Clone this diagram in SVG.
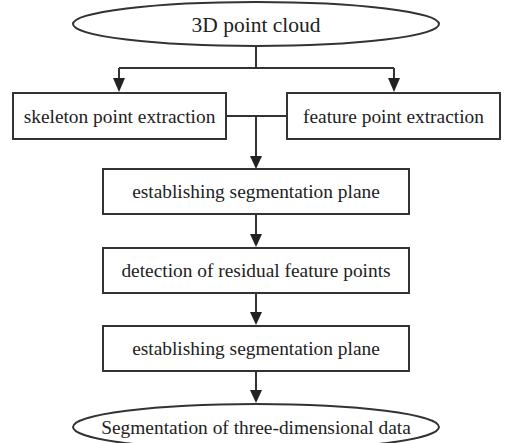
<svg xmlns="http://www.w3.org/2000/svg" width="510" height="443" viewBox="0 0 510 443">
<style>
.n{fill:#fff;stroke:#333;stroke-width:2}
.t{font-family:"Liberation Serif","Times New Roman",serif;font-size:19.4px;fill:#222;text-anchor:middle}
.c{fill:none;stroke:#333;stroke-width:2}
.h{fill:#222}
</style>
<rect width="510" height="443" fill="#fff"/>
<g id="connectors">
<path class="c" d="M256,46 V68 M119,68 H394 M119,68 V80 M394,68 V80"/>
<path class="h" d="M113,78 L125,78 L119,92 Z"/>
<path class="h" d="M388,78 L400,78 L394,92 Z"/>
<path class="c" d="M226,116 H287 M256,116 V160"/>
<path class="h" d="M250,156 L262,156 L256,169 Z"/>
<path class="c" d="M256,214 V236"/>
<path class="h" d="M250,234 L262,234 L256,247 Z"/>
<path class="c" d="M256,293 V314"/>
<path class="h" d="M250,312 L262,312 L256,325 Z"/>
<path class="c" d="M256,371 V392"/>
<path class="h" d="M250,390 L262,390 L256,403 Z"/>
</g>
<g id="n1"><ellipse class="n" cx="256" cy="24" rx="183" ry="22"/><text class="t" x="256" y="32" style="font-size:21.5px">3D point cloud</text></g>
<g id="n2"><rect class="n" x="13" y="93" width="213" height="46"/><text class="t" x="119.5" y="123">skeleton point extraction</text></g>
<g id="n3"><rect class="n" x="287" y="93" width="213" height="46"/><text class="t" x="393.5" y="123">feature point extraction</text></g>
<g id="n4"><rect class="n" x="103" y="169" width="306" height="45"/><text class="t" x="256" y="198">establishing segmentation plane</text></g>
<g id="n5"><rect class="n" x="103" y="248" width="306" height="45"/><text class="t" x="256" y="277">detection of residual feature points</text></g>
<g id="n6"><rect class="n" x="103" y="326" width="306" height="45"/><text class="t" x="256" y="355">establishing segmentation plane</text></g>
<g id="n7"><ellipse class="n" cx="256" cy="427" rx="183" ry="23"/><text class="t" x="256" y="434">Segmentation of three-dimensional data</text></g>
</svg>
